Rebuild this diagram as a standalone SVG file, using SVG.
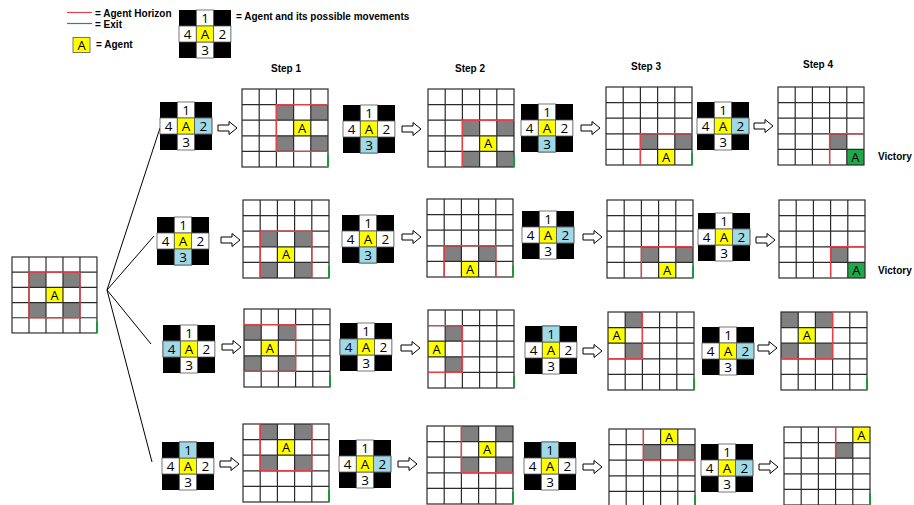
<svg xmlns="http://www.w3.org/2000/svg" xmlns:xlink="http://www.w3.org/1999/xlink" width="914" height="505" viewBox="0 0 914 505">
<style>
.gl{fill:none;stroke:#2b2b2b;stroke-width:1.2}
.gc{fill:#808080}
.ag{fill:#ffff00}
.vg{fill:#1fa74a}
.hz{fill:none;stroke:#e5414b;stroke-width:1.4}
.ex{stroke:#1a9a3a;stroke-width:2}
.bl{fill:#9fd9e8;stroke:#555;stroke-width:0.8}
.wc{fill:#fff;stroke:#555;stroke-width:0.8}
.lbl{font-family:"Liberation Sans",Arial,sans-serif;font-weight:bold;font-size:10px;fill:#000}
.ct{font-family:"Open Sans","Liberation Sans",sans-serif;font-size:13px;text-anchor:middle;fill:#000}
.wt{font-family:"Open Sans","Liberation Sans",sans-serif;font-size:13.5px;text-anchor:middle;fill:#000}
.fan{stroke:#000;stroke-width:1;fill:none}
.arr{fill:#fff;stroke:#000;stroke-width:1}
</style>
<defs>
<g id="grid"><rect x="0" y="0" width="86" height="78" class="gl"/><path class="gl" d="M17.2,0V78M34.4,0V78M51.6,0V78M68.8,0V78M0,15.6H86M0,31.2H86M0,46.8H86M0,62.4H86"/></g>
<g id="wb"><rect width="52" height="48" fill="#000"/><rect class="wc" x="17.3" y="0" width="17.3" height="16"/><rect class="wc" x="0" y="16" width="17.3" height="16"/><rect class="wc" x="34.6" y="16" width="17.3" height="16"/><rect class="wc" x="17.3" y="32" width="17.3" height="16"/><rect x="17.3" y="16" width="17.3" height="16" fill="#ffff00" stroke="#555" stroke-width="0.8"/></g>
<g id="wt"><text class="wt" x="26" y="13.2">1</text><text class="wt" x="8.7" y="29.2">4</text><text class="wt" x="26" y="29.2">A</text><text class="wt" x="43.3" y="29.2">2</text><text class="wt" x="26" y="45.2">3</text></g>
<path id="arrow" class="arr" d="M0,-3H11V-6.5L19,0L11,6.5V3H0Z"/>
</defs>
<rect width="914" height="505" fill="#fff"/>

<g id="legend">
<line x1="67" y1="12.5" x2="92" y2="12.5" stroke="#e5414b" stroke-width="1.2"/>
<text class="lbl" x="95" y="17">= Agent Horizon</text>
<line x1="67" y1="23.5" x2="92" y2="23.5" stroke="#1a9a3a" stroke-width="1.2"/>
<text class="lbl" x="95" y="27.5">= Exit</text>
<rect x="73" y="37.5" width="17" height="15" fill="#ffff00" stroke="#555" stroke-width="0.8"/>
<text class="ct" x="81.5" y="50">A</text>
<text class="lbl" x="96" y="47.5">= Agent</text>
<g id="legend-widget" transform="translate(179,10)"><use href="#wb"/><use href="#wt"/></g>
<text class="lbl" x="236" y="19.5">= Agent and its possible movements</text>
</g>

<g id="step-labels">
<text class="lbl" x="286" y="72" text-anchor="middle">Step 1</text>
<text class="lbl" x="470" y="72" text-anchor="middle">Step 2</text>
<text class="lbl" x="646" y="70" text-anchor="middle">Step 3</text>
<text class="lbl" x="818" y="68" text-anchor="middle">Step 4</text>
<text class="lbl" x="878" y="160">Victory</text>
<text class="lbl" x="878" y="274">Victory</text>
</g>

<g id="connectors">
<path class="fan" d="M107,290L160,128M107,290L154,236M107,290L151,344M107,290L152,462"/>
<use href="#arrow" x="218" y="128"/><use href="#arrow" x="402" y="129"/><use href="#arrow" x="581" y="128"/><use href="#arrow" x="754" y="126"/>
<use href="#arrow" x="221" y="240"/><use href="#arrow" x="402" y="237"/><use href="#arrow" x="583" y="237"/><use href="#arrow" x="756" y="240"/>
<use href="#arrow" x="222" y="347"/><use href="#arrow" x="401" y="348"/><use href="#arrow" x="583" y="351"/><use href="#arrow" x="758" y="348"/>
<use href="#arrow" x="220" y="464"/><use href="#arrow" x="398" y="464"/><use href="#arrow" x="583" y="467"/><use href="#arrow" x="759" y="467"/>
</g>

<g id="start" transform="translate(12,257) scale(0.988,0.974)">
<rect width="86" height="78" fill="#fff"/>
<rect class="gc" x="17.2" y="15.6" width="17.2" height="15.6"/><rect class="gc" x="51.6" y="15.6" width="17.2" height="15.6"/><rect class="gc" x="17.2" y="46.8" width="17.2" height="15.6"/><rect class="gc" x="51.6" y="46.8" width="17.2" height="15.6"/>
<rect class="ag" x="34.4" y="31.2" width="17.2" height="15.6"/>
<use href="#grid"/>
<text class="ct" x="43" y="43.7">A</text>
<rect class="hz" x="17.2" y="15.6" width="51.6" height="46.8"/>
<line class="ex" x1="86" y1="66" x2="86" y2="78"/>
</g>

<!-- Row 1 -->
<g id="r1w1" transform="translate(160,102)"><use href="#wb"/><rect class="bl" x="34.6" y="16" width="17.3" height="16"/><use href="#wt"/></g>
<g id="r1g1" transform="translate(242,89)">
<rect width="86" height="78" fill="#fff"/>
<rect class="gc" x="34.4" y="15.6" width="17.2" height="15.6"/><rect class="gc" x="68.8" y="15.6" width="17.2" height="15.6"/><rect class="gc" x="34.4" y="46.8" width="17.2" height="15.6"/><rect class="gc" x="68.8" y="46.8" width="17.2" height="15.6"/>
<rect class="ag" x="51.6" y="31.2" width="17.2" height="15.6"/>
<use href="#grid"/>
<text class="ct" x="60.2" y="43.7">A</text>
<path class="hz" d="M86,15.6H34.4V62.4H86"/>
<line class="ex" x1="86" y1="66" x2="86" y2="78"/>
</g>
<g id="r1w2" transform="translate(343,105)"><use href="#wb"/><rect class="bl" x="17.3" y="32" width="17.3" height="16"/><use href="#wt"/></g>
<g id="r1g2" transform="translate(428,89)">
<rect width="86" height="78" fill="#fff"/>
<rect class="gc" x="34.4" y="31.2" width="17.2" height="15.6"/><rect class="gc" x="68.8" y="31.2" width="17.2" height="15.6"/><rect class="gc" x="34.4" y="62.4" width="17.2" height="15.6"/><rect class="gc" x="68.8" y="62.4" width="17.2" height="15.6"/>
<rect class="ag" x="51.6" y="46.8" width="17.2" height="15.6"/>
<use href="#grid"/>
<text class="ct" x="60.2" y="59.3">A</text>
<path class="hz" d="M86,31.2H34.4V78"/>
<line class="ex" x1="86" y1="66" x2="86" y2="78"/>
</g>
<g id="r1w3" transform="translate(521,104)"><use href="#wb"/><rect class="bl" x="17.3" y="32" width="17.3" height="16"/><use href="#wt"/></g>
<g id="r1g3" transform="translate(606,87)">
<rect width="86" height="78" fill="#fff"/>
<rect class="gc" x="34.4" y="46.8" width="17.2" height="15.6"/><rect class="gc" x="68.8" y="46.8" width="17.2" height="15.6"/>
<rect class="ag" x="51.6" y="62.4" width="17.2" height="15.6"/>
<use href="#grid"/>
<text class="ct" x="60.2" y="74.9">A</text>
<path class="hz" d="M86,46.8H34.4V78"/>
<line class="ex" x1="86" y1="66" x2="86" y2="78"/>
</g>
<g id="r1w4" transform="translate(697,102)"><use href="#wb"/><rect class="bl" x="34.6" y="16" width="17.3" height="16"/><use href="#wt"/></g>
<g id="r1g4" transform="translate(778,87)">
<rect width="86" height="78" fill="#fff"/>
<rect class="gc" x="51.6" y="46.8" width="17.2" height="15.6"/>
<rect class="vg" x="68.8" y="62.4" width="17.2" height="15.6"/>
<use href="#grid"/>
<text class="ct" x="77.4" y="74.9">A</text>
<path class="hz" d="M86,46.8H51.6V78"/>
</g>

<!-- Row 2 -->
<g id="r2w1" transform="translate(157,217)"><use href="#wb"/><rect class="bl" x="17.3" y="32" width="17.3" height="16"/><use href="#wt"/></g>
<g id="r2g1" transform="translate(243,200)">
<rect width="86" height="78" fill="#fff"/>
<rect class="gc" x="17.2" y="31.2" width="17.2" height="15.6"/><rect class="gc" x="51.6" y="31.2" width="17.2" height="15.6"/><rect class="gc" x="17.2" y="62.4" width="17.2" height="15.6"/><rect class="gc" x="51.6" y="62.4" width="17.2" height="15.6"/>
<rect class="ag" x="34.4" y="46.8" width="17.2" height="15.6"/>
<use href="#grid"/>
<text class="ct" x="43" y="59.3">A</text>
<path class="hz" d="M17.2,78V31.2H68.8V78"/>
<line class="ex" x1="86" y1="66" x2="86" y2="78"/>
</g>
<g id="r2w2" transform="translate(342,215)"><use href="#wb"/><rect class="bl" x="17.3" y="32" width="17.3" height="16"/><use href="#wt"/></g>
<g id="r2g2" transform="translate(427,199)">
<rect width="86" height="78" fill="#fff"/>
<rect class="gc" x="17.2" y="46.8" width="17.2" height="15.6"/><rect class="gc" x="51.6" y="46.8" width="17.2" height="15.6"/>
<rect class="ag" x="34.4" y="62.4" width="17.2" height="15.6"/>
<use href="#grid"/>
<text class="ct" x="43" y="74.9">A</text>
<path class="hz" d="M17.2,78V46.8H68.8V78"/>
<line class="ex" x1="86" y1="66" x2="86" y2="78"/>
</g>
<g id="r2w3" transform="translate(522,211)"><use href="#wb"/><rect class="bl" x="34.6" y="16" width="17.3" height="16"/><use href="#wt"/></g>
<g id="r2g3" transform="translate(607,200)">
<rect width="86" height="78" fill="#fff"/>
<rect class="gc" x="34.4" y="46.8" width="17.2" height="15.6"/><rect class="gc" x="68.8" y="46.8" width="17.2" height="15.6"/>
<rect class="ag" x="51.6" y="62.4" width="17.2" height="15.6"/>
<use href="#grid"/>
<text class="ct" x="60.2" y="74.9">A</text>
<path class="hz" d="M86,46.8H34.4V78"/>
<line class="ex" x1="86" y1="66" x2="86" y2="78"/>
</g>
<g id="r2w4" transform="translate(698,213)"><use href="#wb"/><rect class="bl" x="34.6" y="16" width="17.3" height="16"/><use href="#wt"/></g>
<g id="r2g4" transform="translate(779,200)">
<rect width="86" height="78" fill="#fff"/>
<rect class="gc" x="51.6" y="46.8" width="17.2" height="15.6"/>
<rect class="vg" x="68.8" y="62.4" width="17.2" height="15.6"/>
<use href="#grid"/>
<text class="ct" x="77.4" y="74.9">A</text>
<path class="hz" d="M86,46.8H51.6V78"/>
</g>

<!-- Row 3 -->
<g id="r3w1" transform="translate(163,325)"><use href="#wb"/><rect class="bl" x="0" y="16" width="17.3" height="16"/><use href="#wt"/></g>
<g id="r3g1" transform="translate(244,309)">
<rect width="86" height="78" fill="#fff"/>
<rect class="gc" x="0" y="15.6" width="17.2" height="15.6"/><rect class="gc" x="34.4" y="15.6" width="17.2" height="15.6"/><rect class="gc" x="0" y="46.8" width="17.2" height="15.6"/><rect class="gc" x="34.4" y="46.8" width="17.2" height="15.6"/>
<rect class="ag" x="17.2" y="31.2" width="17.2" height="15.6"/>
<use href="#grid"/>
<text class="ct" x="25.8" y="43.7">A</text>
<path class="hz" d="M0,15.6H51.6V62.4H0"/>
<line class="ex" x1="86" y1="66" x2="86" y2="78"/>
</g>
<g id="r3w2" transform="translate(340,323)"><use href="#wb"/><rect class="bl" x="0" y="16" width="17.3" height="16"/><use href="#wt"/></g>
<g id="r3g2" transform="translate(428,310)">
<rect width="86" height="78" fill="#fff"/>
<rect class="gc" x="17.2" y="15.6" width="17.2" height="15.6"/><rect class="gc" x="17.2" y="46.8" width="17.2" height="15.6"/>
<rect class="ag" x="0" y="31.2" width="17.2" height="15.6"/>
<use href="#grid"/>
<text class="ct" x="8.6" y="43.7">A</text>
<path class="hz" d="M0,15.6H34.4V62.4H0"/>
<line class="ex" x1="86" y1="66" x2="86" y2="78"/>
</g>
<g id="r3w3" transform="translate(525,326)"><use href="#wb"/><rect class="bl" x="17.3" y="0" width="17.3" height="16"/><use href="#wt"/></g>
<g id="r3g3" transform="translate(608,312)">
<rect width="86" height="78" fill="#fff"/>
<rect class="gc" x="17.2" y="0" width="17.2" height="15.6"/><rect class="gc" x="17.2" y="31.2" width="17.2" height="15.6"/>
<rect class="ag" x="0" y="15.6" width="17.2" height="15.6"/>
<use href="#grid"/>
<text class="ct" x="8.6" y="28.1">A</text>
<path class="hz" d="M34.4,0V46.8H0"/>
<line class="ex" x1="86" y1="66" x2="86" y2="78"/>
</g>
<g id="r3w4" transform="translate(702,327)"><use href="#wb"/><rect class="bl" x="34.6" y="16" width="17.3" height="16"/><use href="#wt"/></g>
<g id="r3g4" transform="translate(781,312)">
<rect width="86" height="78" fill="#fff"/>
<rect class="gc" x="0" y="0" width="17.2" height="15.6"/><rect class="gc" x="34.4" y="0" width="17.2" height="15.6"/><rect class="gc" x="0" y="31.2" width="17.2" height="15.6"/><rect class="gc" x="34.4" y="31.2" width="17.2" height="15.6"/>
<rect class="ag" x="17.2" y="15.6" width="17.2" height="15.6"/>
<use href="#grid"/>
<text class="ct" x="25.8" y="28.1">A</text>
<path class="hz" d="M51.6,0V46.8H0"/>
<line class="ex" x1="86" y1="66" x2="86" y2="78"/>
</g>

<!-- Row 4 -->
<g id="r4w1" transform="translate(162,442)"><use href="#wb"/><rect class="bl" x="17.3" y="0" width="17.3" height="16"/><use href="#wt"/></g>
<g id="r4g1" transform="translate(243,424)">
<rect width="86" height="78" fill="#fff"/>
<rect class="gc" x="17.2" y="0" width="17.2" height="15.6"/><rect class="gc" x="51.6" y="0" width="17.2" height="15.6"/><rect class="gc" x="17.2" y="31.2" width="17.2" height="15.6"/><rect class="gc" x="51.6" y="31.2" width="17.2" height="15.6"/>
<rect class="ag" x="34.4" y="15.6" width="17.2" height="15.6"/>
<use href="#grid"/>
<text class="ct" x="43" y="28.1">A</text>
<path class="hz" d="M17.2,0V46.8H68.8V0"/>
<line class="ex" x1="86" y1="66" x2="86" y2="78"/>
</g>
<g id="r4w2" transform="translate(339,440)"><use href="#wb"/><rect class="bl" x="34.6" y="16" width="17.3" height="16"/><use href="#wt"/></g>
<g id="r4g2" transform="translate(427,426)">
<rect width="86" height="78" fill="#fff"/>
<rect class="gc" x="34.4" y="0" width="17.2" height="15.6"/><rect class="gc" x="68.8" y="0" width="17.2" height="15.6"/><rect class="gc" x="34.4" y="31.2" width="17.2" height="15.6"/><rect class="gc" x="68.8" y="31.2" width="17.2" height="15.6"/>
<rect class="ag" x="51.6" y="15.6" width="17.2" height="15.6"/>
<use href="#grid"/>
<text class="ct" x="60.2" y="28.1">A</text>
<path class="hz" d="M34.4,0V46.8H86"/>
<line class="ex" x1="86" y1="66" x2="86" y2="78"/>
</g>
<g id="r4w3" transform="translate(524,442)"><use href="#wb"/><rect class="bl" x="17.3" y="0" width="17.3" height="16"/><use href="#wt"/></g>
<g id="r4g3" transform="translate(609,429)">
<rect width="86" height="78" fill="#fff"/>
<rect class="gc" x="34.4" y="15.6" width="17.2" height="15.6"/><rect class="gc" x="68.8" y="15.6" width="17.2" height="15.6"/>
<rect class="ag" x="51.6" y="0" width="17.2" height="15.6"/>
<use href="#grid"/>
<text class="ct" x="60.2" y="12.5">A</text>
<path class="hz" d="M34.4,0V31.2H86"/>
<line class="ex" x1="86" y1="66" x2="86" y2="78"/>
</g>
<g id="r4w4" transform="translate(701,444)"><use href="#wb"/><rect class="bl" x="34.6" y="16" width="17.3" height="16"/><use href="#wt"/></g>
<g id="r4g4" transform="translate(784,427)">
<rect width="86" height="78" fill="#fff"/>
<rect class="gc" x="51.6" y="15.6" width="17.2" height="15.6"/>
<rect class="ag" x="68.8" y="0" width="17.2" height="15.6"/>
<use href="#grid"/>
<text class="ct" x="77.4" y="12.5">A</text>
<path class="hz" d="M51.6,0V31.2"/>
<line class="ex" x1="86" y1="66" x2="86" y2="78"/>
</g>
</svg>
